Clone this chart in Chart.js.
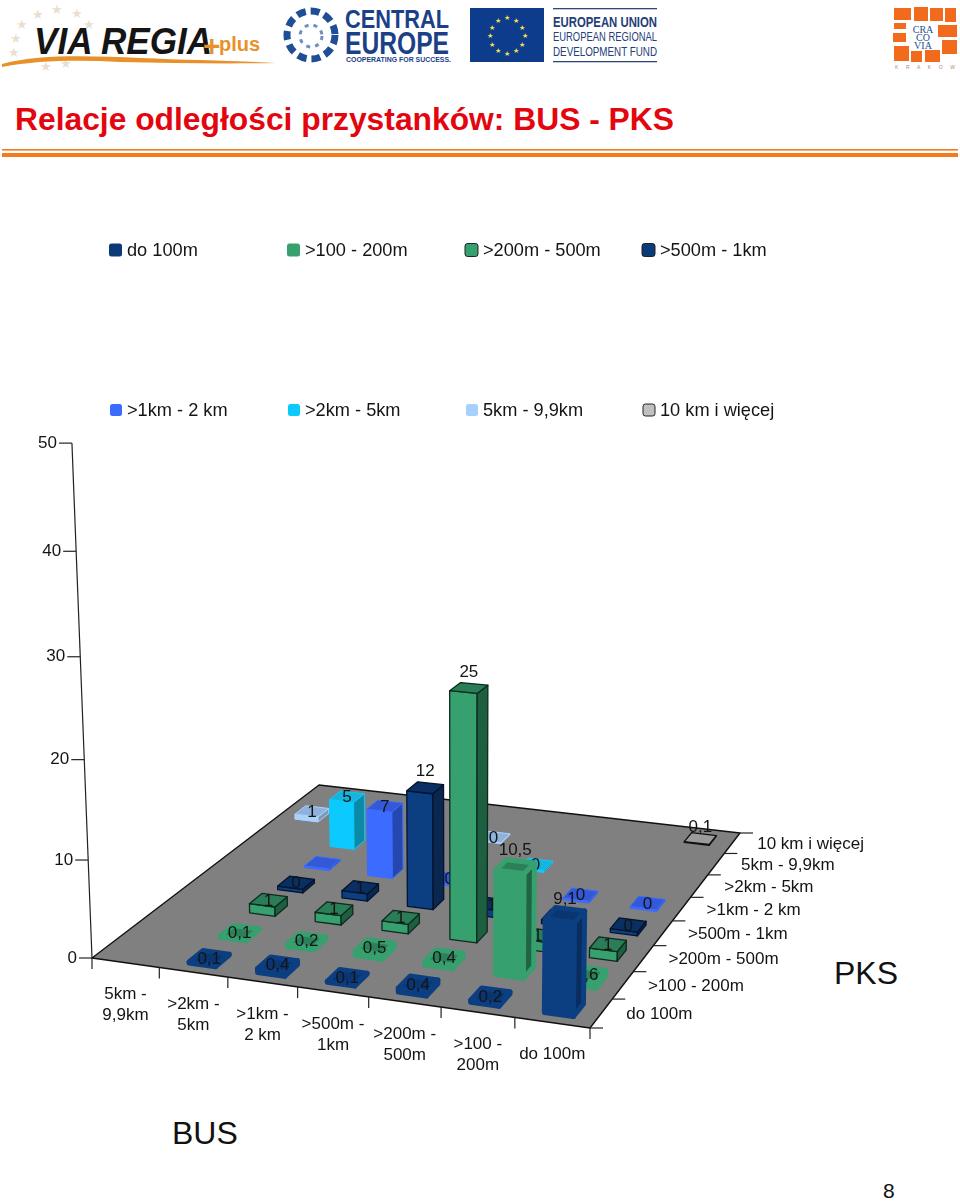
<!DOCTYPE html>
<html lang="pl">
<head>
<meta charset="utf-8">
<title>Relacje odległości przystanków: BUS - PKS</title>
<script src="https://cdn.jsdelivr.net/npm/chart.js@4/dist/chart.umd.min.js"></script>
<style>
html,body{margin:0;padding:0;background:#fff;width:960px;height:1201px;overflow:hidden}
#deco,#c{position:absolute;left:0;top:0}
text{font-family:"Liberation Sans",Arial,sans-serif}
</style>
</head>
<body>
<svg id="deco" width="960" height="1201" viewBox="0 0 960 1201">
  <!-- VIA REGIA plus -->
  <g fill="#eadfcf" font-size="13">
    <text x="10" y="43">★</text><text x="16" y="29">★</text><text x="32" y="19">★</text><text x="51" y="14">★</text><text x="71" y="18">★</text><text x="83" y="29">★</text><text x="8" y="57">★</text><text x="40" y="71">★</text><text x="60" y="68">★</text>
  </g>
  <text x="34" y="54" font-size="37" font-weight="bold" font-style="italic" fill="#151515" textLength="178" lengthAdjust="spacingAndGlyphs">VIA REGIA</text>
  <text x="203" y="56" font-size="30" font-weight="bold" fill="#e8912a">+</text>
  <text x="219" y="51" font-size="20" font-weight="bold" fill="#e8912a">plus</text>
  <path d="M2 64 C40 54 90 56 140 58 C190 60 240 61 276 63 C220 64 170 63 120 62 C80 60 40 60 2 67 Z" fill="#e8912a"/>
  <!-- Central Europe -->
  <circle cx="311" cy="35" r="24" fill="none" stroke="#1f4e96" stroke-width="7" stroke-dasharray="9 5"/>
  <circle cx="311" cy="36" r="11" fill="none" stroke="#6f8fc0" stroke-width="3" stroke-dasharray="4 5"/>
  <text x="345" y="28" font-size="26" font-weight="bold" fill="#1b4088" textLength="104" lengthAdjust="spacingAndGlyphs">CENTRAL</text>
  <text x="345" y="54" font-size="31" font-weight="bold" fill="#1b4088" textLength="104" lengthAdjust="spacingAndGlyphs">EUROPE</text>
  <text x="346" y="62" font-size="7" font-weight="bold" fill="#1b4088" textLength="105" lengthAdjust="spacingAndGlyphs">COOPERATING FOR SUCCESS.</text>
  <!-- EU -->
  <rect x="470" y="8" width="74" height="54" fill="#0d3c8c"/>
  <g fill="#f4e04d" font-size="7" text-anchor="middle">
    <text x="507" y="20">★</text><text x="516" y="23">★</text><text x="522" y="30">★</text><text x="525" y="38">★</text><text x="522" y="47">★</text><text x="516" y="53">★</text><text x="507" y="56">★</text><text x="498" y="53">★</text><text x="492" y="47">★</text><text x="490" y="38">★</text><text x="492" y="30">★</text><text x="498" y="23">★</text>
  </g>
  <rect x="553" y="8" width="104" height="1.3" fill="#2f4a7a"/>
  <rect x="553" y="61" width="104" height="1.3" fill="#2f4a7a"/>
  <text x="553" y="27" font-size="15" font-weight="bold" fill="#24407a" textLength="104" lengthAdjust="spacingAndGlyphs">EUROPEAN UNION</text>
  <text x="553" y="41" font-size="13" fill="#24407a" textLength="104" lengthAdjust="spacingAndGlyphs">EUROPEAN REGIONAL</text>
  <text x="553" y="56" font-size="13" fill="#24407a" textLength="104" lengthAdjust="spacingAndGlyphs">DEVELOPMENT FUND</text>
  <!-- Cracovia -->
  <g fill="#f26a1b">
    <rect x="894" y="8" width="17" height="12"/><rect x="914" y="7" width="14" height="14"/><rect x="930" y="8" width="13" height="13"/><rect x="945" y="8" width="11" height="14"/>
    <rect x="894" y="23" width="12" height="6"/><rect x="938" y="25" width="19" height="12"/><rect x="893" y="33" width="13" height="9"/><rect x="942" y="40" width="15" height="14"/>
    <rect x="894" y="46" width="15" height="15"/><rect x="911" y="51" width="11" height="11"/><rect x="925" y="50" width="15" height="12"/>
  </g>
  <g fill="#1d4e8f" font-size="10" text-anchor="middle">
    <text x="923" y="33" style="font-family:'Liberation Serif',serif">CRA</text><text x="923" y="41" style="font-family:'Liberation Serif',serif">CO</text><text x="923" y="49" style="font-family:'Liberation Serif',serif">VIA</text>
  </g>
  <text x="895" y="69" font-size="5" fill="#b08a70" textLength="60">K R A K O W</text>
  <!-- Title and rule -->
  <text x="15" y="130" font-size="31" font-weight="bold" fill="#e3060f" textLength="659" lengthAdjust="spacingAndGlyphs">Relacje odległości przystanków: BUS - PKS</text>
  <rect x="2" y="149" width="956" height="1.6" fill="#f47a1f"/>
  <rect x="2" y="153" width="956" height="4" fill="#f47a1f"/>
  <!-- Axis titles and page number -->
  <text x="172" y="1144" font-size="32" fill="#111">BUS</text>
  <text x="834" y="984" font-size="32" fill="#111">PKS</text>
  <text x="883" y="1198" font-size="21" fill="#111">8</text>
</svg>
<canvas id="c" width="960" height="1201"></canvas>
<script>
// ---- Data ----
const busCategories = [['5km -','9,9km'],['>2km -','5km'],['>1km -','2 km'],['>500m -','1km'],['>200m -','500m'],['>100 -','200m'],'do 100m'];
const pksCategories = ['do 100m','>100 - 200m','>200m - 500m','>500m - 1km','>1km - 2 km','>2km - 5km','5km - 9,9km','10 km i więcej'];
const do100m   = [null, 0.1, 0.4, 0.1, 0.4, 0.2, 9.1];
const m100_200 = [null, 0.1, 0.2, 0.5, 0.4, 10.5, 0.6];
const m200_500 = [null, 1, 1, 1, 25.4, 1, 1];
const m500_1k  = [null, 0.4, 0.8, 12.4, 0.8, 0.4, 0.4];
const km1_2    = [null, 0.2, 7.4, 0.2, null, 0.2, 0.2];
const km2_5    = [null, 5.4, null, null, 0.2, null, null];
const km5_9    = [0.6, null, null, 0.1, null, null, null];
const km10     = [null, null, null, null, null, null, 0.1];
const seriesValues = [do100m, m100_200, m200_500, m500_1k, km1_2, km2_5, km5_9, km10];
const axisTicks = [0, 10, 20, 30, 40, 50];
const labelDecimals = [1, 1, 0, 0, 0, 0, 0, 1];
const unlabeledCells = ['4:1'];

// ---- Styling ----
const faces = [
  {front:'#0b3f82', side:'#0a2c5e', top:'#0b3570', line:'#0b3f82', lw:5, legend:'#0b3a78'},
  {front:'#37a06f', side:'#1f6545', top:'#2c8059', line:'#37a06f', lw:5, legend:'#37a06f'},
  {front:'#37a06f', side:'#1f5f41', top:'#2a7d56', line:'#0d2a1c', lw:1.3, legend:'#37a06f', legendLine:'#222'},
  {front:'#0b3f82', side:'#0a2750', top:'#0a2f62', line:'#04142e', lw:1.3, legend:'#0b3a78', legendLine:'#222'},
  {front:'#3b6bff', side:'#2447b0', top:'#3358d8', line:'#3b6bff', lw:1, legend:'#3b6bff'},
  {front:'#0ccaff', side:'#0b8aa8', top:'#14b4dc', line:'#0ccaff', lw:1, legend:'#0ccaff'},
  {front:'#a9d3fb', side:'#7d99b8', top:'#8fb2dc', line:'#a9d3fb', lw:1, legend:'#a4d0fb'},
  {front:'#c8c8c8', side:'#9a9a9a', top:'#9a9a9a', line:'#111', lw:1.3, legend:'#c0c0c0', legendLine:'#222'}
];
const FONT = '"Liberation Sans", Arial, sans-serif';
const FILL_U = 0.39, FILL_V = 0.44;

// ---- Projection of the 3D scene ----
const P00 = [92, 958], P10 = [590, 1028], P11 = [740, 833], P01 = [319, 785];
const VANISH = [460, 10400], HEIGHT_GAIN = 9.68, HEIGHT_BEND = -0.0012;
const dx1 = P10[0]-P11[0], dx2 = P01[0]-P11[0], sx = P00[0]-P10[0]+P11[0]-P01[0];
const dy1 = P10[1]-P11[1], dy2 = P01[1]-P11[1], sy = P00[1]-P10[1]+P11[1]-P01[1];
const det = dx1*dy2-dx2*dy1;
const g = (sx*dy2-dx2*sy)/det, h = (dx1*sy-sx*dy1)/det;
const A = [P10[0]-P00[0]+g*P10[0], P01[0]-P00[0]+h*P01[0]];
const B = [P10[1]-P00[1]+g*P10[1], P01[1]-P00[1]+h*P01[1]];
function project(u, v, value) {
  const w = 1+g*u+h*v;
  const x = (A[0]*u+A[1]*v+P00[0])/w, y = (B[0]*u+B[1]*v+P00[1])/w;
  const rise = (HEIGHT_GAIN/w)*value/(1+HEIGHT_BEND*value);
  const lean = (VANISH[0]-x)/(VANISH[1]-y);
  return [x-lean*rise, y-rise];
}
const unitX = (s, i) => (s.getPixelForValue(i)-s.left)/s.width;
const valueOf = (s, val) => (s.bottom-s.getPixelForValue(val))/s.height*(s.max-s.min);

function poly(ctx, pts, fill, line, lw) {
  ctx.beginPath();
  pts.forEach((p, i) => i ? ctx.lineTo(p[0], p[1]) : ctx.moveTo(p[0], p[1]));
  ctx.closePath();
  ctx.fillStyle = fill; ctx.fill();
  ctx.lineWidth = lw; ctx.strokeStyle = line; ctx.lineJoin = 'round'; ctx.stroke();
}

class Bar3DController extends Chart.BarController {
  static id = 'bar3d';
  draw() {
    const ctx = this.chart.ctx, meta = this._cachedMeta, k = this.index;
    const xs = meta.xScale, ys = meta.yScale, ps = this.chart.scales.pks;
    const du = FILL_U/2/xs.getLabels().length;
    const dv = FILL_V/2/ps.getLabels().length;
    const f = faces[k], v = unitX(ps, k);
    ctx.save();
    for (let i = 0; i < meta.data.length; i++) {
      if (seriesValues[k][i] == null) continue;
      const raw = this.getParsed(i).y;
      const u = unitX(xs, i), val = valueOf(ys, raw);
      const u0=u-du,u1=u+du,v0=v-dv,v1=v+dv;
      const a=project(u0,v0,0),b=project(u1,v0,0),c=project(u1,v1,0);
      const at=project(u0,v0,val),bt=project(u1,v0,val),ct=project(u1,v1,val),dt=project(u0,v1,val);
      poly(ctx,[a,b,bt,at],f.front,f.line,f.lw);
      poly(ctx,[b,c,ct,bt],f.side,f.line,f.lw);
      poly(ctx,[at,bt,ct,dt],f.top,f.line,f.lw);
      if (unlabeledCells.includes(k+':'+i)) continue;
      const tc=project(u,v,val);
      const dy = raw>=9 ? -16 : (k===7 ? -11 : 1);
      ctx.font='17px '+FONT; ctx.textAlign='center'; ctx.textBaseline='middle';
      ctx.fillStyle='#141414';
      ctx.fillText(String(+raw.toFixed(labelDecimals[k])).replace('.',','),tc[0],tc[1]+dy);
    }
    ctx.restore();
  }
}
Chart.register(Bar3DController);

const scenePlugin = {
  id:'scene',
  beforeDatasetsDraw(chart) {
    const ctx = chart.ctx, xs = chart.scales.x, ys = chart.scales.y, ps = chart.scales.pks;
    const nb = xs.getLabels().length, np = ps.getLabels().length;
    ctx.save();
    // floor
    poly(ctx,[project(0,0,0),project(1,0,0),project(1,1,0),project(0,1,0)],'#808080','#111',1.4);
    ctx.strokeStyle='#222'; ctx.lineWidth=1.2;
    const seg=(p,q)=>{ctx.beginPath();ctx.moveTo(p[0],p[1]);ctx.lineTo(q[0],q[1]);ctx.stroke();};
    // value axis
    const top=valueOf(ys,ys.max);
    seg(project(0,0,0),project(0,0,top));
    ctx.font='17px '+FONT; ctx.fillStyle='#141414'; ctx.textBaseline='middle';
    ctx.textAlign='right';
    ys.ticks.forEach(t=>{
      const p=project(0,0,valueOf(ys,t.value));
      seg(p,[p[0]-13,p[1]]);
      ctx.fillText(t.label,p[0]-15,p[1]);
    });
    // BUS axis
    ctx.textAlign='center';
    for(let i=0;i<=nb;i++){const p=project(i/nb,0,0);seg(p,[p[0],p[1]+11]);}
    xs.getLabels().forEach((lab,i)=>{
      const p=project(unitX(xs,i),0,0);
      [].concat(lab).forEach((line,n)=>ctx.fillText(line,p[0],p[1]+32+n*21));
    });
    // PKS axis
    ctx.textAlign='left';
    for(let i=0;i<=np;i++){const p=project(1,i/np,0);seg(p,[p[0]+13,p[1]]);}
    ps.getLabels().forEach((lab,i)=>{
      const p=project(1,unitX(ps,i),0);
      ctx.fillText(lab,p[0]+25,p[1]+1);
    });
    // legend
    const legendX=[109,287,465,642], legendY=[250,410];
    chart.data.datasets.forEach((d,i)=>{
      const row=i<4?0:1, col=i%4, f=faces[i], s=row?12:13;
      const x=legendX[col]+(row?1:0), y=legendY[row]-s/2;
      ctx.beginPath(); ctx.roundRect(x,y,s,s,2.5);
      ctx.fillStyle=f.legend; ctx.fill();
      if(f.legendLine){ctx.strokeStyle=f.legendLine;ctx.lineWidth=1;ctx.stroke();}
      ctx.font='18.2px '+FONT; ctx.fillStyle='#141414'; ctx.textAlign='left';
      ctx.fillText(d.label,legendX[col]+18,legendY[row]+1);
    });
    ctx.restore();
  }
};

new Chart(document.getElementById('c'),{
  type:'bar3d',
  data:{
    labels:busCategories,
    datasets:pksCategories.map((name,i)=>({label:name,data:seriesValues[i],clip:false}))
  },
  options:{
    responsive:false, animation:false, events:[],
    layout:{padding:{top:443,bottom:243,left:0,right:0}},
    plugins:{legend:{display:false},title:{display:false},tooltip:{enabled:false}},
    scales:{
      x:{type:'category',display:false,offset:true},
      pks:{type:'category',axis:'x',display:false,offset:true,labels:pksCategories},
      y:{type:'linear',display:false,min:0,max:50,afterBuildTicks(s){s.ticks=axisTicks.map(value=>({value,label:String(value)}));}}
    }
  },
  plugins:[scenePlugin]
});
</script>
</body>
</html>
